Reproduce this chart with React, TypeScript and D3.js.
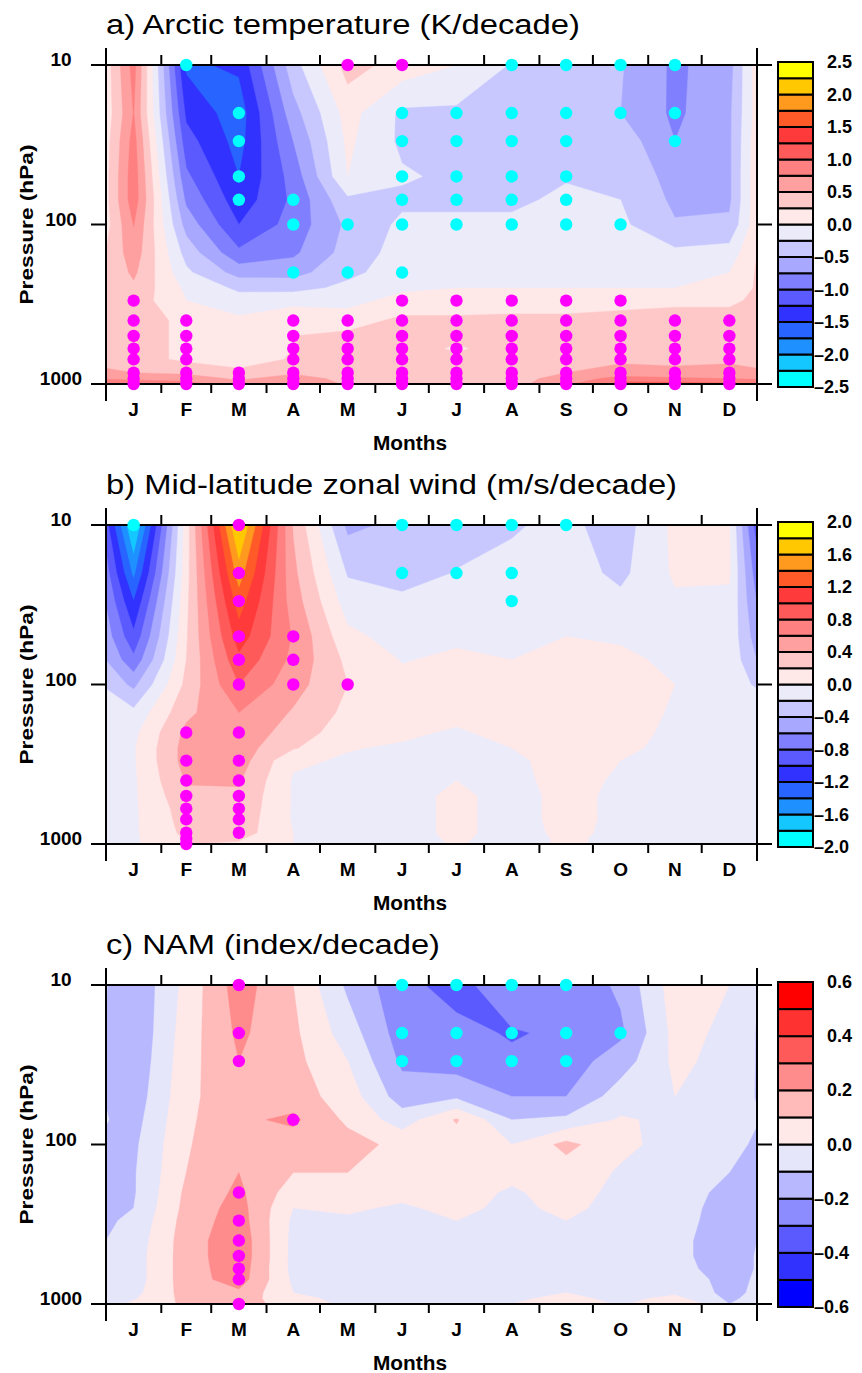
import React from 'react';
import * as d3 from 'd3';

// months and pressure levels of the grid
const months = ['J', 'F', 'M', 'A', 'M', 'J', 'J', 'A', 'S', 'O', 'N', 'D'];
const monthDays = [31, 28, 31, 30, 31, 30, 31, 31, 30, 31, 30, 31];
const levels = [10, 20, 30, 50, 70, 100, 150, 200, 250, 300, 400, 500, 600, 700, 850, 925, 1000];
const pressureTicks = [10, 100, 1000];

// a) Arctic temperature trend (K/decade), rows = levels, cols = J..D
const tempTrend = [
  [0.85, -1.55, -1.45, -0.35, 0.35, 0.15, 0.0, -0.27, -0.3, -0.48, -0.8, -0.6],
  [0.76, -1.3, -1.65, -0.6, 0.1, -0.3, -0.3, -0.35, -0.35, -0.5, -0.8, -0.55],
  [0.85, -1.15, -1.6, -0.75, 0.05, -0.3, -0.3, -0.35, -0.35, -0.35, -0.75, -0.55],
  [0.9, -0.95, -1.5, -0.9, 0.0, -0.22, -0.3, -0.35, -0.27, -0.3, -0.6, -0.55],
  [0.9, -0.8, -1.4, -0.95, -0.3, -0.3, -0.3, -0.3, -0.2, -0.25, -0.55, -0.55],
  [0.76, -0.6, -1.25, -0.9, -0.45, -0.2, -0.2, -0.2, -0.2, -0.2, -0.48, -0.45],
  [0.65, -0.35, -0.95, -0.8, -0.4, -0.15, -0.15, -0.15, -0.15, -0.15, -0.2, -0.15],
  [0.55, -0.2, -0.6, -0.6, -0.3, -0.15, -0.1, -0.1, -0.1, -0.1, -0.1, 0.0],
  [0.45, -0.05, -0.3, -0.32, -0.2, -0.05, 0.0, 0.0, 0.0, 0.0, 0.0, 0.1],
  [0.4, 0.0, -0.15, -0.1, -0.1, 0.1, 0.1, 0.15, 0.15, 0.2, 0.2, 0.2],
  [0.35, 0.2, 0.05, 0.22, 0.15, 0.3, 0.3, 0.3, 0.3, 0.3, 0.35, 0.35],
  [0.35, 0.2, 0.1, 0.25, 0.3, 0.3, 0.3, 0.35, 0.35, 0.35, 0.4, 0.4],
  [0.35, 0.2, 0.12, 0.25, 0.3, 0.35, 0.22, 0.35, 0.35, 0.4, 0.4, 0.4],
  [0.35, 0.2, 0.15, 0.27, 0.35, 0.35, 0.3, 0.35, 0.4, 0.45, 0.45, 0.45],
  [0.5, 0.45, 0.3, 0.45, 0.35, 0.35, 0.35, 0.4, 0.5, 0.6, 0.55, 0.6],
  [0.7, 0.65, 0.45, 0.65, 0.4, 0.38, 0.35, 0.4, 0.6, 0.85, 0.8, 0.75],
  [0.9, 0.85, 0.6, 0.8, 0.45, 0.35, 0.3, 0.4, 0.7, 1.1, 1.1, 1.05],
];
// significance: '+' positive (magenta), '-' negative (cyan)
const tempSig = [
  '.-..++.----.',
  '..-..------.',
  '..-..----.-.',
  '..-..----...',
  '..--.----...',
  '...-------..',
  '............',
  '...---......',
  '............',
  '+....+++++..',
  '++.+++++++++',
  '++.+++++++++',
  '++.+++++++++',
  '++.+++++++++',
  '++++++++++++',
  '++++++++++++',
  '++++++++++++',
];

// b) mid-latitude zonal wind trend (m/s/decade)
const windTrend = [
  [-1.85, 0.1, 1.85, 0.38, -0.45, -0.35, -0.3, -0.22, -0.15, -0.3, 0.05, 0.02],
  [-1.45, 0.12, 1.5, 0.45, -0.22, -0.3, -0.19, -0.15, -0.1, -0.25, 0.03, 0.02],
  [-1.2, 0.15, 1.3, 0.5, -0.1, -0.15, -0.12, -0.12, -0.05, -0.15, -0.03, -0.03],
  [-0.95, 0.18, 1.1, 0.58, 0.05, -0.08, -0.03, -0.05, 0.0, -0.03, -0.05, -0.06],
  [-0.75, 0.2, 0.95, 0.55, 0.15, -0.01, 0.03, 0.0, 0.05, 0.05, -0.05, -0.06],
  [-0.45, 0.25, 0.8, 0.48, 0.2, 0.05, 0.08, 0.08, 0.1, 0.08, 0.0, -0.04],
  [-0.15, 0.35, 0.6, 0.38, 0.15, 0.1, 0.05, 0.1, 0.1, 0.08, -0.02, -0.04],
  [-0.05, 0.45, 0.55, 0.3, 0.1, 0.03, -0.02, 0.05, 0.1, 0.05, -0.03, -0.05],
  [-0.02, 0.48, 0.5, 0.22, 0.01, -0.02, -0.04, 0.0, 0.08, 0.03, -0.04, -0.05],
  [-0.02, 0.48, 0.5, 0.03, -0.02, -0.04, -0.05, -0.03, 0.06, 0.0, -0.05, -0.05],
  [-0.03, 0.42, 0.42, -0.02, -0.04, -0.05, 0.0, -0.04, 0.05, -0.02, -0.05, -0.05],
  [-0.03, 0.35, 0.37, -0.02, -0.05, -0.05, 0.03, -0.05, 0.04, -0.03, -0.05, -0.05],
  [-0.03, 0.3, 0.35, -0.02, -0.05, -0.05, 0.03, -0.05, 0.04, -0.03, -0.05, -0.05],
  [-0.03, 0.28, 0.33, -0.02, -0.05, -0.05, 0.03, -0.05, 0.04, -0.03, -0.05, -0.05],
  [-0.03, 0.25, 0.3, 0.0, -0.05, -0.05, 0.03, -0.05, 0.03, -0.03, -0.05, -0.05],
  [-0.03, 0.22, 0.22, 0.0, -0.05, -0.05, 0.02, -0.05, 0.02, -0.03, -0.05, -0.05],
  [-0.03, 0.2, 0.18, 0.0, -0.05, -0.05, 0.01, -0.05, 0.02, -0.03, -0.05, -0.05],
];
const windSig = [
  '-.+..----...',
  '..+..---....',
  '..+....-....',
  '..++........',
  '..++........',
  '..+++.......',
  '............',
  '.++.........',
  '............',
  '.++.........',
  '.++.........',
  '.++.........',
  '.++.........',
  '.++.........',
  '.++.........',
  '.+..........',
  '.+..........',
];

// c) NAM trend (index/decade)
const namTrend = [
  [-0.19, 0.03, 0.25, 0.1, -0.12, -0.27, -0.34, -0.22, -0.28, -0.18, 0.05, 0.0],
  [-0.19, 0.05, 0.22, 0.12, -0.05, -0.25, -0.27, -0.31, -0.28, -0.22, 0.03, -0.02],
  [-0.18, 0.06, 0.2, 0.13, 0.0, -0.22, -0.25, -0.28, -0.25, -0.15, 0.02, -0.03],
  [-0.16, 0.07, 0.18, 0.15, 0.05, -0.15, -0.12, -0.2, -0.2, -0.05, 0.0, -0.05],
  [-0.14, 0.08, 0.18, 0.22, 0.08, -0.05, 0.11, -0.1, -0.08, 0.01, -0.02, -0.05],
  [-0.12, 0.09, 0.18, 0.15, 0.14, 0.07, 0.05, 0.0, 0.13, 0.02, -0.03, -0.09],
  [-0.11, 0.1, 0.2, 0.1, 0.1, 0.05, 0.05, 0.02, 0.05, -0.01, -0.05, -0.1],
  [-0.11, 0.12, 0.22, 0.05, 0.06, 0.02, 0.03, -0.01, 0.03, -0.02, -0.05, -0.13],
  [-0.1, 0.13, 0.24, 0.0, 0.01, -0.01, 0.02, -0.02, 0.02, -0.03, -0.05, -0.15],
  [-0.08, 0.14, 0.25, -0.02, -0.01, -0.02, 0.0, -0.03, 0.0, -0.04, -0.06, -0.15],
  [-0.06, 0.15, 0.27, -0.03, -0.03, -0.04, -0.04, -0.04, -0.03, -0.05, -0.08, -0.14],
  [-0.05, 0.15, 0.27, -0.03, -0.04, -0.05, -0.05, -0.05, -0.04, -0.05, -0.08, -0.14],
  [-0.05, 0.15, 0.26, -0.03, -0.04, -0.05, -0.05, -0.05, -0.04, -0.05, -0.07, -0.14],
  [-0.05, 0.15, 0.25, -0.02, -0.04, -0.05, -0.05, -0.05, -0.03, -0.05, -0.05, -0.13],
  [-0.03, 0.14, 0.18, 0.0, -0.03, -0.05, -0.04, -0.04, 0.0, -0.04, -0.02, -0.13],
  [-0.01, 0.13, 0.16, 0.02, -0.02, -0.04, -0.03, -0.02, 0.03, -0.03, 0.03, -0.12],
  [0.02, 0.12, 0.15, 0.05, -0.02, -0.03, -0.02, 0.0, 0.11, -0.02, 0.11, -0.1],
];
const namSig = [
  '..+..----...',
  '..+..-----..',
  '..+..----...',
  '............',
  '...+........',
  '............',
  '............',
  '..+.........',
  '............',
  '..+.........',
  '..+.........',
  '..+.........',
  '..+.........',
  '..+.........',
  '............',
  '............',
  '..+.........',
];

// shading colours, lowest band first
const colors20 = ['#00ffff', '#14c8ff', '#1e90ff', '#2864ff', '#3232ff', '#5a5aff', '#8080ff', '#a8a8ff', '#c8c8ff', '#ebebfa',
  '#ffe8e8', '#ffc8c8', '#ffa0a0', '#ff8080', '#ff5a5a', '#ff3a3a', '#ff5a28', '#ff9a1e', '#ffc800', '#ffff00'];
const colors12 = ['#0000ff', '#3232ff', '#5a5aff', '#8c8cff', '#b8b8ff', '#e6e6fa',
  '#ffe8e8', '#ffbaba', '#ff8c8c', '#ff5a5a', '#ff3232', '#ff0000'];

const panels = [
  { title: 'a) Arctic temperature (K/decade)', titleLen: 474, values: tempTrend, sig: tempSig, min: -2.5, max: 2.5, step: 0.25, labelStep: 0.5, colors: colors20 },
  { title: 'b) Mid-latitude zonal wind (m/s/decade)', titleLen: 571, values: windTrend, sig: windSig, min: -2, max: 2, step: 0.2, labelStep: 0.4, colors: colors20 },
  { title: 'c) NAM (index/decade)', titleLen: 334, values: namTrend, sig: namSig, min: -0.6, max: 0.6, step: 0.1, labelStep: 0.2, colors: colors12 },
];

const W = 862, H = 1373;
const plotLeft = 106, plotRight = 757, plotH = 319;
const panelTops = [65, 525, 985];
const barX = 778, barW = 35;
const font = "'Liberation Sans', Arial, sans-serif";

const monthStart = [0, ...d3.cumsum(monthDays)];
const monthMid = months.map((_, i) => (monthStart[i] + monthStart[i + 1]) / 2);
// cyclic padding: Dec before Jan, Jan after Dec
const gridDays = [monthMid[11] - 365, ...monthMid, monthMid[0] + 365];
const logLevels = levels.map(Math.log10);

// d3.contours puts value k at coordinate k + 0.5
function lerpIndex(arr, c) {
  const t = Math.max(0, Math.min(arr.length - 1, c - 0.5));
  const i = Math.min(Math.floor(t), arr.length - 2);
  return arr[i] + (arr[i + 1] - arr[i]) * (t - i);
}

function Panel({ cfg, top, idx }) {
  const bottom = top + plotH;
  const x = d3.scaleLinear().domain([0, 365]).range([plotLeft, plotRight]);
  const y = d3.scaleLog().domain([10, 1000]).range([top, bottom]);

  const nx = gridDays.length, ny = levels.length;
  const grid = cfg.values.flatMap(row => [row[11], ...row, row[0]]);
  const n = cfg.colors.length;
  const ths = d3.range(n).map(k => +(cfg.min + k * cfg.step).toFixed(4));
  const layers = d3.contours().size([nx, ny]).thresholds(ths)(grid);

  const pt = ([cx, cy]) =>
    `${x(lerpIndex(gridDays, cx)).toFixed(2)},${y(10 ** lerpIndex(logLevels, cy)).toFixed(2)}`;
  const toPath = mp => mp.coordinates
    .map(poly => poly.map(ring => 'M' + ring.map(pt).join('L') + 'Z').join(''))
    .join('');

  const dots = [];
  cfg.sig.forEach((row, j) => {
    row.split('').forEach((c, i) => {
      if (c === '+' || c === '-') dots.push({ i, j, c });
    });
  });

  const barTop = top - 3, barH = plotH + 6, bh = barH / n;
  const nLab = Math.round((cfg.max - cfg.min) / cfg.labelStep) + 1;
  const labels = d3.range(nLab).map(k => +(cfg.max - k * cfg.labelStep).toFixed(3));
  const clipId = `clip${idx}`;

  return (
    <g>
      <defs>
        <clipPath id={clipId}>
          <rect x={plotLeft} y={top} width={plotRight - plotLeft} height={plotH} />
        </clipPath>
      </defs>
      <g clipPath={`url(#${clipId})`}>
        {layers.map((l, k) => (
          <path key={k} d={toPath(l)} fill={cfg.colors[k]} fillRule="evenodd" stroke={cfg.colors[k]} strokeWidth={0.4} />
        ))}
      </g>

      {/* frame and ticks */}
      <rect x={plotLeft} y={top} width={plotRight - plotLeft} height={plotH} fill="none" stroke="#000" strokeWidth={2} />
      {monthStart.map((d, i) => {
        const edge = i === 0 || i === 12;
        return (
          <g key={i} stroke="#000" strokeWidth={2}>
            <line x1={x(d)} x2={x(d)} y1={top} y2={top - (edge ? 17 : 10)} />
            <line x1={x(d)} x2={x(d)} y1={bottom} y2={bottom + (edge ? 17 : 9)} />
          </g>
        );
      })}
      {pressureTicks.map(p => (
        <g key={p}>
          <line x1={plotLeft - 15} x2={plotLeft} y1={y(p)} y2={y(p)} stroke="#000" strokeWidth={2} />
          <line x1={plotRight} x2={plotRight + 15} y1={y(p)} y2={y(p)} stroke="#000" strokeWidth={2} />
          <text x={61} y={y(p) + 1} textAnchor="middle" fontSize={19} fontWeight="bold" fontFamily={font}>{p}</text>
        </g>
      ))}
      {months.map((m, i) => (
        <text key={i} x={x(monthMid[i])} y={bottom + 32} textAnchor="middle" fontSize={19} fontWeight="bold" fontFamily={font}>{m}</text>
      ))}

      {/* significance dots */}
      {dots.map((d, k) => (
        <circle key={k} cx={x(monthMid[d.i])} cy={y(levels[d.j])} r={6.2} fill={d.c === '+' ? '#ff00ff' : '#00ffff'} />
      ))}

      {/* titles */}
      <text x={plotLeft} y={top - 31} fontSize={27} fontFamily={font} textLength={cfg.titleLen} lengthAdjust="spacingAndGlyphs">{cfg.title}</text>
      <text x={410} y={bottom + 66} textAnchor="middle" fontSize={21} fontWeight="bold" fontFamily={font} textLength={74} lengthAdjust="spacingAndGlyphs">Months</text>
      <text transform={`translate(33,${(top + bottom) / 2}) rotate(-90)`} textAnchor="middle" fontSize={19} fontWeight="bold" fontFamily={font} textLength={160} lengthAdjust="spacingAndGlyphs">Pressure (hPa)</text>

      {/* colour bar */}
      {cfg.colors.map((c, k) => (
        <rect key={k} x={barX} y={barTop + barH - (k + 1) * bh} width={barW} height={bh} fill={c} stroke="#000" strokeWidth={2} />
      ))}
      {labels.map((v, k) => {
        const ly = barTop + (cfg.max - v) / (cfg.max - cfg.min) * barH + 6;
        const txt = Math.abs(v).toFixed(1);
        return v < 0 ? (
          <text key={k} x={814} y={ly} fontSize={18} fontWeight="bold" fontFamily={font}>{'\u2013' + txt}</text>
        ) : (
          <text key={k} x={827} y={ly} fontSize={18} fontWeight="bold" fontFamily={font}>{txt}</text>
        );
      })}
    </g>
  );
}

export default function App() {
  return (
    <svg width={W} height={H} viewBox={`0 0 ${W} ${H}`} style={{ position: 'absolute', left: 0, top: 0, background: '#fff' }}>
      <rect width={W} height={H} fill="#fff" />
      {panels.map((p, k) => <Panel key={k} cfg={p} top={panelTops[k]} idx={k} />)}
    </svg>
  );
}
